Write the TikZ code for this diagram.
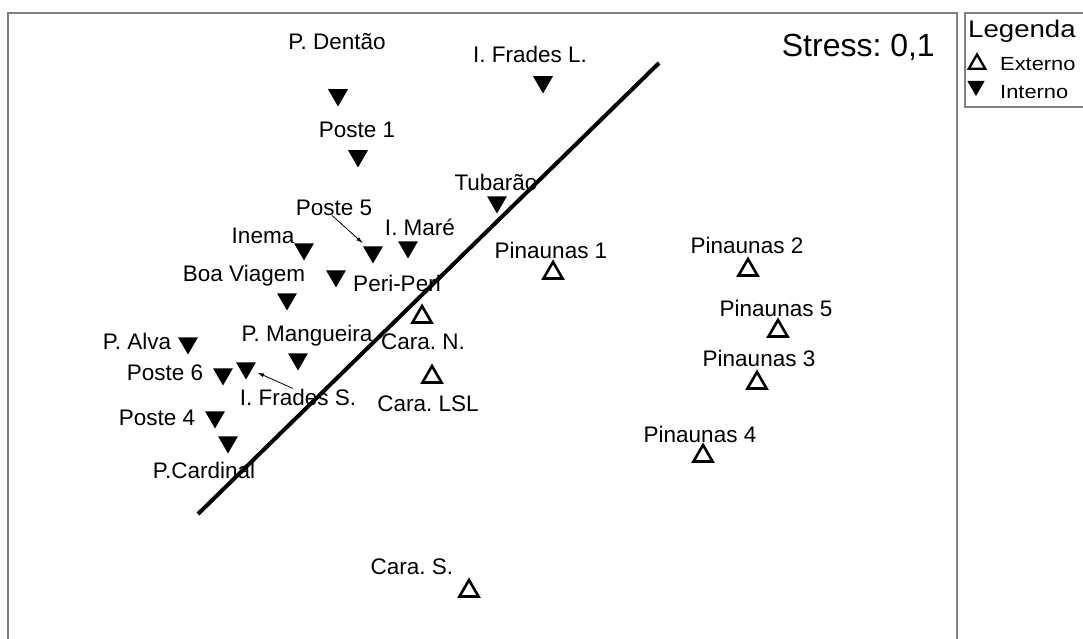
\documentclass[tikz,border=0pt]{standalone}
\usepackage{fontspec}
\setmainfont{Liberation Sans}
\newfontfamily\legfont{Liberation Sans}[FakeStretch=1.15]
\usetikzlibrary{shapes.geometric, arrows.meta}
\frenchspacing

\begin{document}
\begin{tikzpicture}[x=1pt, y=-1pt, % one unit is one pixel, y goes down
    interno/.style={regular polygon, regular polygon sides=3, shape border rotate=180,
        fill=black, inner sep=0pt, minimum size=23pt},
    externo/.style={regular polygon, regular polygon sides=3, draw=black,
        line width=2.6pt, inner sep=0pt, minimum size=22pt},
    lbl/.style={font=\fontsize{22.5}{26}\selectfont, inner sep=0pt, anchor=base},
    moldura/.style={draw=gray, line width=1.5pt},
    seta/.style={-{Latex[length=7pt, width=4pt]}, line width=0.8pt}]

        % Page
        \useasboundingbox[fill=white] (0,0) rectangle (1083,639);

        % Plot frame and legend frame
        \draw[moldura] (8,640) -- (8,13) -- (957,13) -- (957,640);
        \draw[moldura] (1084,107) -- (965,107) -- (965,13) -- (1084,13);

        % Interno sites (filled, pointing down)
        \foreach \id/\mx/\my/\lx/\ly/\txt in {
            pdentao/338/95/337/50/P. Dentão,
            ifradesl/543/82/530/63/I. Frades L.,
            poste1/358/156/357/138/Poste 1,
            tubarao/497/202/496/190/Tubarão,
            poste5/373/252/334/215/Poste 5,
            imare/408/247/420/235/I. Maré,
            inema/304/249/263/243/Inema,
            periperi/336/276/397/291/Peri-Peri,
            boaviagem/287/299/244/281/Boa Viagem,
            pmangueira/298/359/307/341/P. Mangueira,
            palva/188/343/137/349/P. Alva,
            poste6/223/374/165/380/Poste 6,
            ifradess/246/368/298/405/I. Frades S.,
            poste4/215/417/157/425/Poste 4,
            pcardinal/228/442/204/478/P.Cardinal} {
            \node[interno] (\id) at (\mx,\my) {};
            \node[lbl] (\id-l) at (\lx,\ly) {\txt};
        }

        % Externo sites (open, pointing up)
        \foreach \id/\mx/\my/\lx/\ly/\txt in {
            pinaunas1/553/273/551/258/Pinaunas 1,
            pinaunas2/748/270/747/253/Pinaunas 2,
            pinaunas5/778/331/776/316/Pinaunas 5,
            pinaunas3/757/383/759/366/Pinaunas 3,
            pinaunas4/703/456/700/442/Pinaunas 4,
            caran/422/317/423/349/Cara. N.,
            caralsl/432/377/428/411/Cara. LSL,
            caras/469/591/412/574/Cara. S.} {
            \node[externo] (\id) at (\mx,\my) {};
            \node[lbl] (\id-l) at (\lx,\ly) {\txt};
        }

        % Pointers from labels to their sites
        \draw[seta, shorten >=4pt] ([xshift=-2pt]poste5-l.south) -- (poste5.140);
        \draw[seta, shorten >=6pt] ([xshift=-5pt]ifradess-l.north) -- (ifradess.-20);

        % Dividing line
        \coordinate (linhaA) at (198,514);
        \coordinate (linhaB) at (659,63);
        \draw[line width=4pt] (linhaA) -- (linhaB);

        % Stress value
        \node[font=\fontsize{32}{36}\selectfont, inner sep=0pt, anchor=base east] (stress) at (935,57) {Stress: 0,1};

        % Legend
        \node[font=\legfont\fontsize{24}{28}\selectfont, inner sep=0pt, anchor=base west] (legenda) at (968,38) {Legenda};
        \node[externo, minimum size=19pt, line width=2.3pt] (legext) at (977,64) {};
        \node[font=\legfont\fontsize{19}{22}\selectfont, inner sep=0pt, anchor=base west] (legext-l) at (1000,71) {Externo};
        \node[interno, minimum size=20pt] (legint) at (976,86) {};
        \node[font=\legfont\fontsize{19}{22}\selectfont, inner sep=0pt, anchor=base west] (legint-l) at (1000,99) {Interno};

    \end{tikzpicture}
\end{document}
